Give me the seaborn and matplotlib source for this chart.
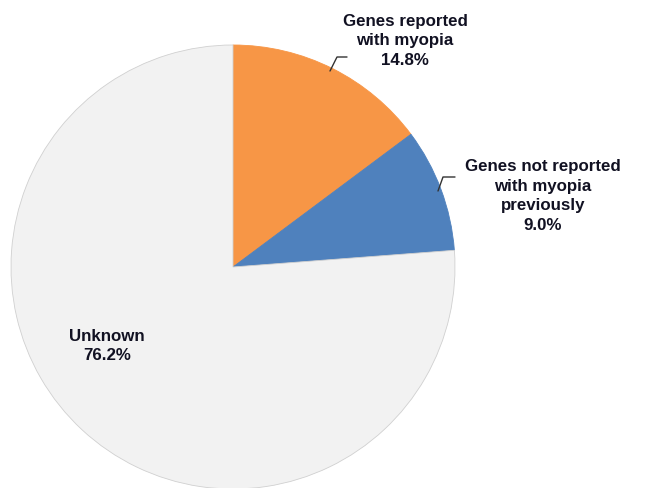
import matplotlib
matplotlib.use("Agg")
import matplotlib.pyplot as plt
import seaborn as sns

categories = ["Genes reported\nwith myopia", "Genes not reported\nwith myopia\npreviously", "Unknown"]
values = [14.8, 9.0, 76.2]
colors = ["#F79646", "#4F81BD", "#F2F2F2"]

sns.set_style("white")
plt.rcParams['font.family'] = ['Liberation Sans', 'DejaVu Sans']

W, H = 650, 489
fig = plt.figure(figsize=(6.5, 4.89), dpi=100)
ax = fig.add_axes([0, 0, 1, 1])

cx, cy, r = 233, H - 268, 222
wedges, _ = ax.pie(values, colors=colors, startangle=90, counterclock=False,
                   center=(cx, cy), radius=r, frame=True,
                   wedgeprops=dict(linewidth=0.6, edgecolor="#d0d0d0"))
wedges[0].set_edgecolor(colors[0])
wedges[1].set_edgecolor(colors[1])
ax.set_xlim(0, W)
ax.set_ylim(0, H)
ax.set_aspect('equal')
ax.axis('off')

labels = [f"{c}\n{v:.1f}%" for c, v in zip(categories, values)]
pos = [(405, H - 41), (543, H - 196), (107, H - 346)]
for lab, (x, y) in zip(labels, pos):
    ax.text(x, y, lab, ha='center', va='center', fontsize=12.2, fontweight='bold',
            color='#111122', linespacing=1.38)

# leader lines
ax.plot([330, 337, 347], [H - 72, H - 58, H - 58], color='#333333', lw=1)
ax.plot([438, 443, 455], [H - 192, H - 178, H - 178], color='#333333', lw=1)

fig.savefig("out.png", dpi=100)
